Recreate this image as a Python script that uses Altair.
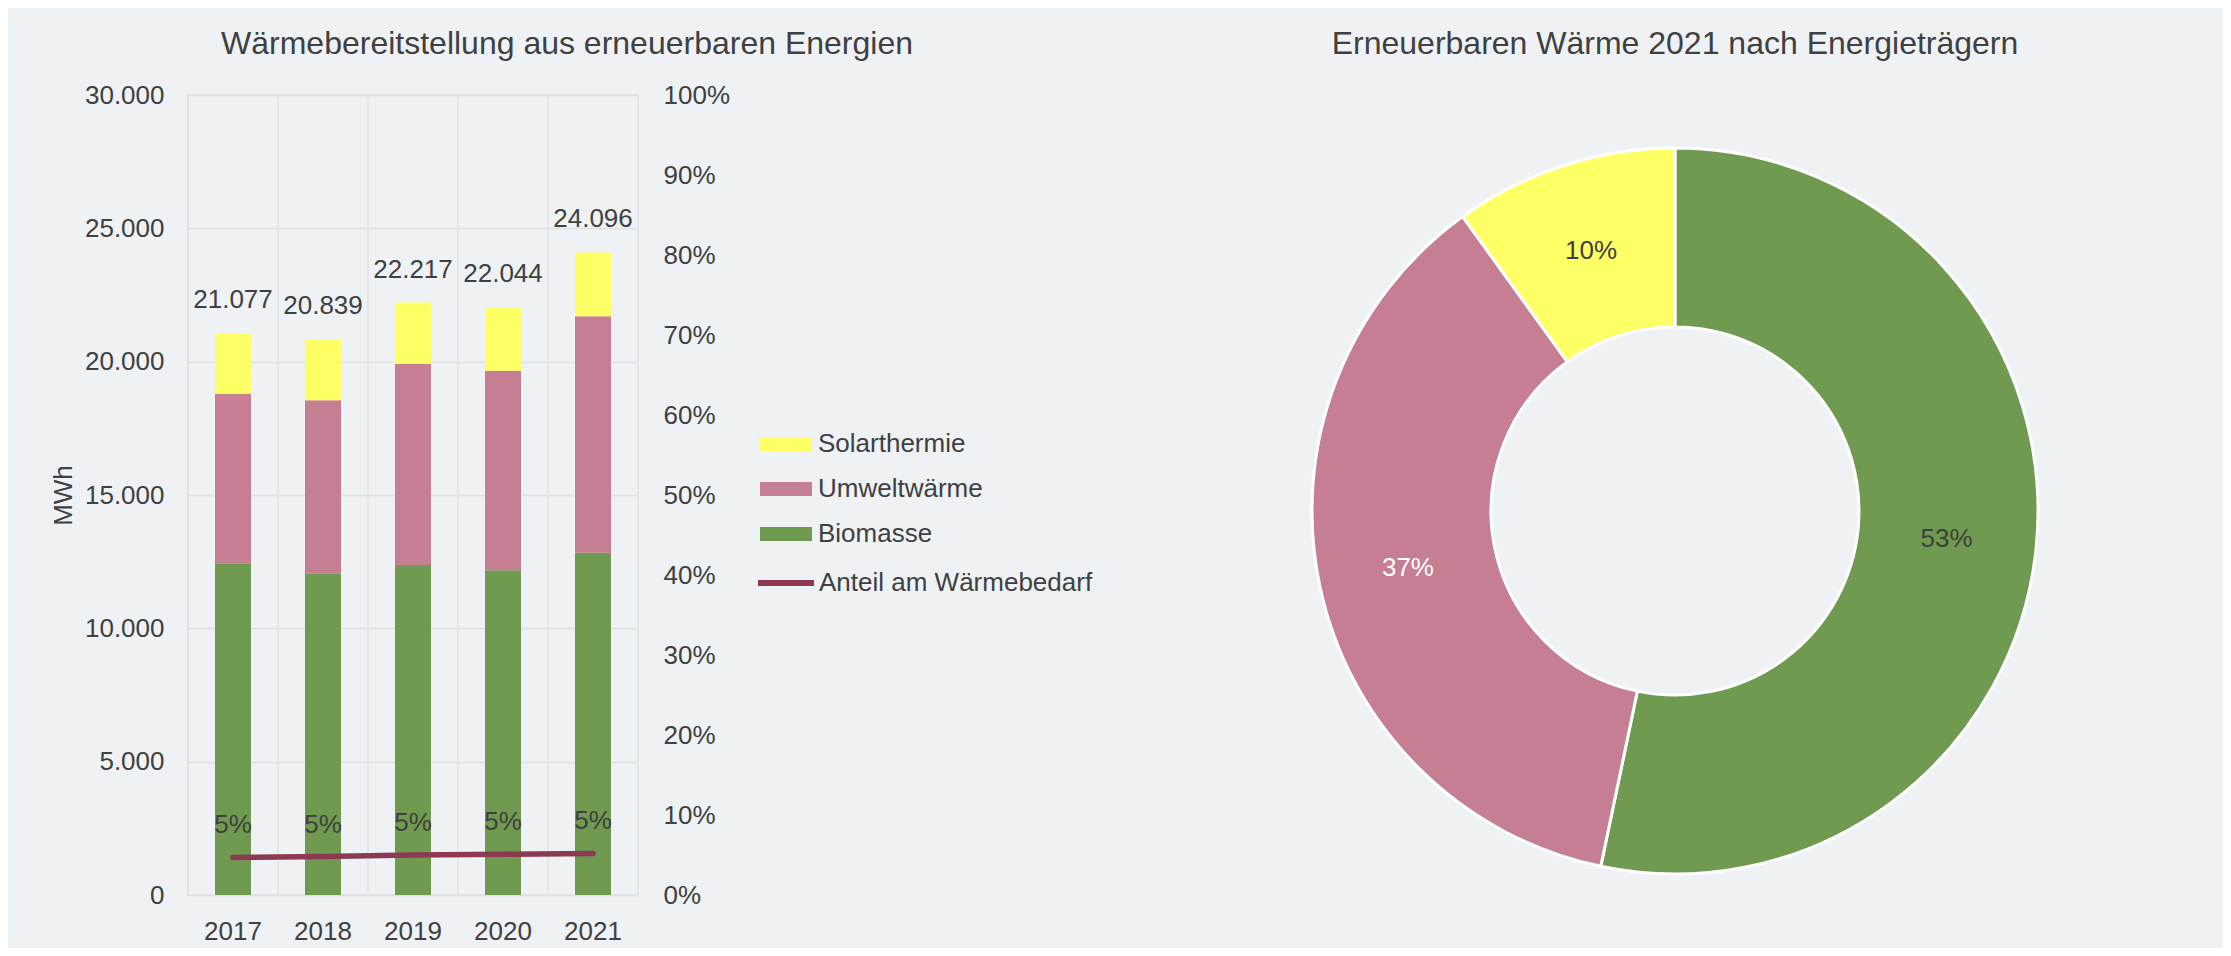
import altair as alt
import pandas as pd

# ---------------- data ----------------
years = ["2017", "2018", "2019", "2020", "2021"]
biomasse = [12440, 12050, 12375, 12175, 12838]
umwelt = [6360, 6500, 7550, 7488, 8862]
solar = [2277, 2289, 2292, 2381, 2396]
share = [0.047, 0.048, 0.050, 0.051, 0.052]

carriers = ["Solarthermie", "Umweltwärme", "Biomasse"]
carrier_colors = ["#ffff66", "#c67f92", "#6f9a4f"]
stack_rank = {"Biomasse": 0, "Umweltwärme": 1, "Solarthermie": 2}
label_colors = {"Biomasse": "#404040", "Umweltwärme": "#ffffff", "Solarthermie": "#404040"}
line_name = "Anteil am Wärmebedarf"
line_color = "#8b3a52"
title_left = "Wärmebereitstellung aus erneuerbaren Energien"
title_right = "Erneuerbaren Wärme 2021 nach Energieträgern"

FONT = "Liberation Sans"
TXT = "#404040"
GRID = "#e0e0e0"
BG = "#eef2f5"
W, H = 450, 800

series = {"Biomasse": biomasse, "Umweltwärme": umwelt, "Solarthermie": solar}
rows = []
for name, vals in series.items():
    for y, v in zip(years, vals):
        rows.append({"year": y, "carrier": name, "value": v, "ord": stack_rank[name]})
bar_df = pd.DataFrame(rows)

totals = [b + u + s for b, u, s in zip(biomasse, umwelt, solar)]
tot_df = pd.DataFrame({
    "year": years,
    "total": totals,
    "label": [f"{t:,}".replace(",", ".") for t in totals],
})
line_df = pd.DataFrame({"year": years, "share": share, "name": line_name})

last = {k: v[-1] for k, v in series.items()}
tot_last = sum(last.values())
donut_df = pd.DataFrame({
    "carrier": list(last.keys()),
    "value": list(last.values()),
    "ord": [stack_rank[k] for k in last.keys()],
    "pct": [f"{round(v / tot_last * 100)}%" for v in last.values()],
    "lc": [label_colors[k] for k in last.keys()],
})

# ---------------- encodings ----------------
def x_enc(**kw):
    return alt.X(
        "year:O", title=None,
        scale=alt.Scale(paddingInner=0, paddingOuter=0),
        axis=alt.Axis(labelAngle=0, ticks=False, domain=False, grid=False,
                      labelPadding=23, labelFontSize=26, labelColor=TXT, labelFont=FONT),
        **kw,
    )

color_enc = alt.Color(
    "carrier:N",
    scale=alt.Scale(domain=carriers, range=carrier_colors),
    legend=alt.Legend(
        title=None, orient="none", legendX=585, legendY=336,
        symbolType="M-2,-0.54L2,-0.54L2,0.54L-2,0.54Z", symbolSize=676,
        symbolStrokeWidth=0, labelOffset=19, rowPadding=19,
        labelFontSize=26, labelColor=TXT, labelFont=FONT, labelLimit=400,
    ),
)

y_mwh = alt.Scale(domain=[0, 30000], nice=False)
y_pct = alt.Scale(domain=[0, 1], nice=False)

rules = alt.Chart(pd.DataFrame({"year": years})).mark_rule(
    color=GRID, strokeWidth=1.5
).encode(x=x_enc(bandPosition=0))

bars = alt.Chart(bar_df).mark_bar(size=36).encode(
    x=x_enc(),
    y=alt.Y(
        "value:Q", stack="zero", scale=y_mwh,
        axis=alt.Axis(
            orient="left", values=[0, 5000, 10000, 15000, 20000, 25000, 30000],
            labelExpr="replace(format(datum.value, ','), ',', '.')",
            grid=True, gridColor=GRID, gridWidth=1.5, ticks=False, domain=False,
            labelPadding=24, labelFontSize=26, labelColor=TXT, labelFont=FONT,
            title="MWh", titleFontSize=26, titleFontWeight="normal",
            titleColor=TXT, titleFont=FONT, titlePadding=8,
        ),
    ),
    color=color_enc,
    order=alt.Order("ord:Q", sort="ascending"),
)

tot_text = alt.Chart(tot_df).mark_text(
    dy=-33, baseline="middle", fontSize=26, font=FONT, color=TXT
).encode(
    x=x_enc(),
    y=alt.Y("total:Q", scale=y_mwh, axis=None),
    text="label:N",
)

line = alt.Chart(line_df).mark_line(strokeWidth=5.5, strokeCap="round").encode(
    x=x_enc(),
    y=alt.Y(
        "share:Q", scale=y_pct,
        axis=alt.Axis(
            orient="right", format=".0%",
            values=[0, 0.1, 0.2, 0.3, 0.4, 0.5, 0.6, 0.7, 0.8, 0.9, 1.0],
            grid=False, ticks=False, domain=False, labelPadding=25,
            labelFontSize=26, labelColor=TXT, labelFont=FONT, title=None,
        ),
    ),
    stroke=alt.Stroke(
        "name:N",
        scale=alt.Scale(domain=[line_name], range=[line_color]),
        legend=alt.Legend(
            title=None, orient="none", legendX=581, legendY=471,
            symbolType="M-2,0L2,0", symbolSize=784, symbolStrokeWidth=6,
            labelOffset=16, labelFontSize=26, labelColor=TXT, labelFont=FONT,
            labelLimit=400,
        ),
    ),
)

line_text = alt.Chart(line_df).mark_text(
    dy=-32, baseline="middle", fontSize=26, font=FONT, color=TXT
).encode(
    x=x_enc(),
    y=alt.Y("share:Q", scale=y_pct, axis=None),
    text=alt.Text("share:Q", format=".0%"),
)

CX, CY = 1487, 416
arc = alt.Chart(donut_df).mark_arc(
    outerRadius=363, innerRadius=184, stroke="white", strokeWidth=3
).encode(
    theta=alt.Theta("value:Q", stack=True),
    color=color_enc,
    order=alt.Order("ord:Q", sort="ascending"),
    x=alt.value(CX), y=alt.value(CY),
)

donut_text = alt.Chart(donut_df).mark_text(
    radius=273, fontSize=26, font=FONT
).encode(
    theta=alt.Theta("value:Q", stack=True),
    order=alt.Order("ord:Q", sort="ascending"),
    text="pct:N",
    color=alt.Color("lc:N", scale=None),
    x=alt.value(CX), y=alt.value(CY),
)

t_left = alt.Chart(pd.DataFrame({"t": [title_left]})).mark_text(
    fontSize=32, font=FONT, color=TXT, baseline="middle", align="center"
).encode(text="t:N", x=alt.value(379), y=alt.value(-51))

t_right = alt.Chart(pd.DataFrame({"t": [title_right]})).mark_text(
    fontSize=32, font=FONT, color=TXT, baseline="middle", align="center"
).encode(text="t:N", x=alt.value(CX), y=alt.value(-51))

chart = alt.layer(
    rules, bars, tot_text, line, line_text, arc, donut_text, t_left, t_right
).resolve_scale(y="independent").properties(
    width=W, height=H,
    autosize=alt.AutoSizeParams(type="none"),
    padding={"left": 180, "top": 87, "right": 1585, "bottom": 53},
    background=BG,
).configure_view(stroke=GRID, strokeWidth=1.5)

chart.save("out.html", embed_options={"renderer": "svg", "actions": False})
